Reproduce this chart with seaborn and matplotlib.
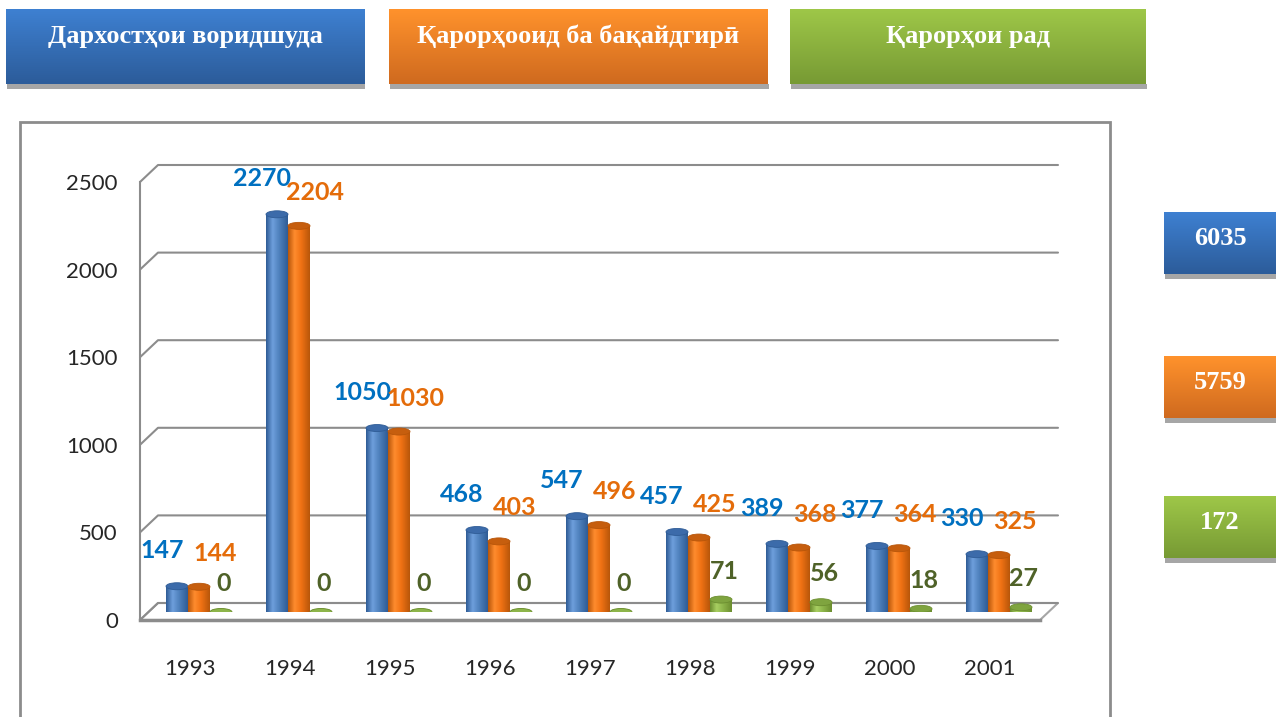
import numpy as np
import pandas as pd
import matplotlib
matplotlib.use("Agg")
import matplotlib.pyplot as plt
import seaborn as sns
from matplotlib.patches import Ellipse, Rectangle, Polygon
from matplotlib.colors import LinearSegmentedColormap

# data
years = ["1993", "1994", "1995", "1996", "1997", "1998", "1999", "2000", "2001"]
received = [147, 2270, 1050, 468, 547, 457, 389, 377, 330]
registered = [144, 2204, 1030, 403, 496, 425, 368, 364, 325]
rejected = [0, 0, 0, 0, 0, 71, 56, 18, 27]
series = ["Дархостҳои воридшуда", "Қарорҳооид ба бақайдгирӣ", "Қарорҳои рад"]
yticks = [0, 500, 1000, 1500, 2000, 2500]

values = [received, registered, rejected]
df = pd.DataFrame({
    "year": years * 3,
    "value": received + registered + rejected,
    "series": np.repeat(series, len(years)),
})

sns.set_style("white")
plt.rcParams["font.family"] = ["Lato", "DejaVu Sans"]

W, H = 1276, 717
fig = plt.figure(figsize=(W / 100, H / 100), dpi=100)


def px(x, y, w, h):
    return [x / W, 1 - (y + h) / H, w / W, h / H]


# colours: bar body / light / dark / top / label / box gradient
styles = [
    dict(base="#4F81BD", light="#6E9FDC", dark="#2F5C96", top="#3C6BAA", label="#0070C0",
         box=("#3E80D1", "#2C5C9A")),
    dict(base="#F07214", light="#FF8C2E", dark="#B8560A", top="#C65E0E", label="#E46C0A",
         box=("#FF922C", "#CF6A1F")),
    dict(base="#8DB54A", light="#A8CF62", dark="#6C8E30", top="#7FA43F", label="#4F6228",
         box=("#9EC748", "#779A34")),
]

serif = ["Liberation Serif", "DejaVu Serif"]
shadow_col = "#A6A6A6"


def draw_box(x, y, w, h, colors, text, ty):
    fig.add_artist(Rectangle(((x + 1) / W, 1 - (y + h + 5) / H), w / W, 5 / H,
                             transform=fig.transFigure, color=shadow_col, lw=0))
    bax = fig.add_axes(px(x, y, w, h))
    grad = np.linspace(0, 1, 100).reshape(-1, 1)
    bax.imshow(grad, aspect="auto", cmap=LinearSegmentedColormap.from_list("g", colors),
               extent=(0, 1, 0, 1))
    bax.axis("off")
    bax.text(0.5, ty, text, color="white", fontsize=19, fontweight="bold",
             family=serif, ha="center", va="center", transform=bax.transAxes)


# header boxes
draw_box(6, 9, 358, 75, styles[0]["box"], series[0], 0.63)
draw_box(389, 9, 379, 75, styles[1]["box"], series[1], 0.63)
draw_box(790, 9, 356, 75, styles[2]["box"], series[2], 0.63)

# totals on the right
draw_box(1164, 212, 112, 62, styles[0]["box"], str(sum(received)), 0.57)
draw_box(1164, 356, 112, 62, styles[1]["box"], str(sum(registered)), 0.57)
draw_box(1164, 496, 112, 62, styles[2]["box"], str(sum(rejected)), 0.57)

# chart frame
fig.add_artist(Rectangle((20 / W, -0.1), (1110 - 20) / W, 1 - 122 / H + 0.1,
                         transform=fig.transFigure, fill=False, edgecolor="#8C8C8C", lw=2))

# front axes: walls, grid, ticks
ax = fig.add_axes(px(140, 182, 900, 438))
ax.set_xlim(-0.5, 8.5)
ax.set_ylim(0, 2500)
ax.patch.set_alpha(0)
dx = 0.18
dy = 17 * 2500 / 438
gray = "#8C8C8C"
ax.add_patch(Polygon([(-0.5, 0), (8.5, 0), (8.5 + dx, dy), (-0.5 + dx, dy)], closed=True,
                     facecolor="white", edgecolor="#A6A6A6", lw=1.5, clip_on=False))
for v in yticks:
    ax.plot([-0.5, -0.5 + dx, 8.5 + dx], [v, v + dy, v + dy], color=gray, lw=1.5,
            clip_on=False)

ax.set_xticks(range(len(years)))
ax.set_xticklabels(years)
ax.set_xticks(np.arange(-0.5, len(years), 1), minor=True)
ax.tick_params(axis="x", which="major", length=0, pad=28, labelsize=16, labelcolor="#262626")
ax.tick_params(axis="x", which="minor", length=8, width=1.5, color=gray, direction="out")
ax.set_yticks(yticks)
ax.tick_params(axis="y", length=7, width=1.5, color=gray, pad=9, labelsize=16,
               labelcolor="#262626")
for s in ["top", "right"]:
    ax.spines[s].set_visible(False)
ax.spines["left"].set_color(gray)
ax.spines["left"].set_linewidth(1.5)
ax.spines["bottom"].set_color(gray)
ax.spines["bottom"].set_linewidth(2.5)
ax.set_xlabel("")
ax.set_ylabel("")

# bars sit half way back in the depth
ax2 = fig.add_axes(px(149, 174, 900, 438))
sns.barplot(data=df, x="year", y="value", hue="series", hue_order=series,
            palette=[s["base"] for s in styles], width=0.66, saturation=1,
            legend=False, ax=ax2)
ax2.set_xlim(-0.5, 8.5)
ax2.set_ylim(0, 2500)
ax2.axis("off")

eh = 7 * 2500 / 438
label_off = [(-15, 24), (16, 22), (3, 17)]
grad_row = np.linspace(0, 1, 60).reshape(1, -1)
for i, cont in enumerate(ax2.containers):
    st = styles[i]
    cmap = LinearSegmentedColormap.from_list(
        "c%d" % i, [(0, st["dark"]), (0.3, st["light"]), (0.6, st["base"]), (1, st["dark"])])
    for bar, val in zip(cont, values[i]):
        bar.set_zorder(2)
        bar.set_linewidth(0)
        x0 = bar.get_x()
        w = bar.get_width()
        h = bar.get_height()
        cx = x0 + w / 2
        ax2.add_patch(Ellipse((cx, 0), w, eh, facecolor=st["dark"], lw=0, zorder=1.9))
        if h > 0:
            img = ax2.imshow(grad_row, extent=(x0, x0 + w, 0, h), aspect="auto",
                             cmap=cmap, zorder=2.1)
            img.set_clip_path(bar)
        ax2.add_patch(Ellipse((cx, h), w, eh, facecolor=st["top"] if h > 0 else st["base"],
                              edgecolor=st["dark"], lw=0.6, zorder=2.2))
        ax2.annotate(str(val), (cx, h), xytext=label_off[i], textcoords="offset pixels",
                     ha="center", va="bottom", fontsize=18, fontweight="bold",
                     color=st["label"], annotation_clip=False, zorder=3)
ax2.set_xlim(-0.5, 8.5)
ax2.set_ylim(0, 2500)

fig.savefig("out.png", dpi=100)
